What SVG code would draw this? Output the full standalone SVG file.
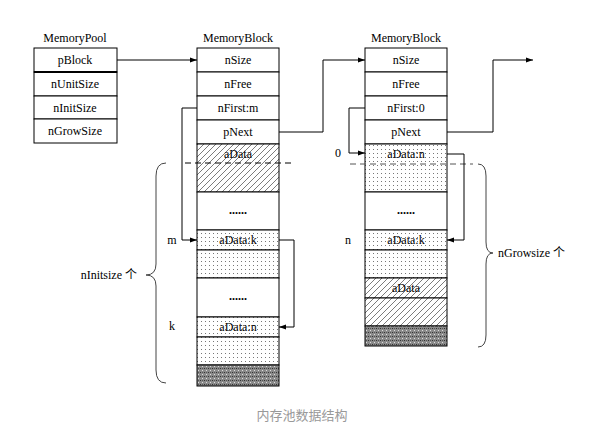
<svg xmlns="http://www.w3.org/2000/svg" width="610" height="436" viewBox="0 0 610 436">
<defs>
<style>
.t{font-family:"Liberation Serif","Times New Roman","Noto Sans CJK SC",serif;font-size:12px;fill:#000;text-anchor:middle}
.c{fill:#fff;stroke:#000;stroke-width:1}
.hat{fill:url(#hatch);stroke:#000;stroke-width:1}
.dot{fill:url(#dots);stroke:#000;stroke-width:1}
.dark{fill:url(#dark);stroke:#000;stroke-width:1}
.conn{fill:none;stroke:#000;stroke-width:1}
.brace{fill:none;stroke:#444;stroke-width:1}
</style>
<pattern id="hatch" width="6" height="6" patternUnits="userSpaceOnUse">
<rect width="6" height="6" fill="#fff"/>
<path d="M-1,7 L7,-1 M-1,1 L1,-1 M5,7 L7,5" stroke="#444" stroke-width="0.7"/>
</pattern>
<pattern id="dots" width="4" height="4" patternUnits="userSpaceOnUse">
<rect width="4" height="4" fill="#fff"/>
<rect x="1" y="1" width="1" height="1" fill="#777"/>
</pattern>
<pattern id="dark" width="4" height="4" patternUnits="userSpaceOnUse">
<rect width="4" height="4" fill="#8a8a8a"/>
<rect x="0" y="0" width="1" height="1" fill="#333"/>
<rect x="2" y="2" width="1" height="1" fill="#ddd"/>
<rect x="2" y="0" width="1" height="1" fill="#555"/>
</pattern>
<marker id="arr" markerWidth="8" markerHeight="6" refX="7" refY="3" orient="auto" markerUnits="userSpaceOnUse">
<path d="M0,0.5 L7,3 L0,5.5 Z" fill="#000"/>
</marker>
</defs>
<rect width="610" height="436" fill="#fff"/>

<g id="memorypool">
<text class="t" x="75" y="42">MemoryPool</text>
<rect class="c" x="34" y="48" width="83" height="24"/>
<text class="t" x="75" y="64">pBlock</text>
<rect class="c" x="34" y="72" width="83" height="24"/>
<text class="t" x="75" y="88">nUnitSize</text>
<rect class="c" x="34" y="96" width="83" height="23"/>
<text class="t" x="75" y="112">nInitSize</text>
<rect class="c" x="34" y="119" width="83" height="24"/>
<text class="t" x="75" y="135">nGrowSize</text>
<line x1="34" y1="72" x2="117" y2="72" stroke="#000" stroke-width="2"/>
</g>

<g id="memoryblock1">
<text class="t" x="238" y="42">MemoryBlock</text>
<rect class="c" x="197" y="48" width="82" height="24"/>
<text class="t" x="238" y="64">nSize</text>
<rect class="c" x="197" y="72" width="82" height="24"/>
<text class="t" x="238" y="88">nFree</text>
<rect class="c" x="197" y="96" width="82" height="24"/>
<text class="t" x="238" y="112">nFirst:m</text>
<rect class="c" x="197" y="120" width="82" height="24"/>
<text class="t" x="238" y="136">pNext</text>
<rect class="hat" x="197" y="144" width="82" height="48"/>
<text class="t" x="238" y="158">aData</text>
<rect class="c" x="197" y="192" width="82" height="38"/>
<text class="t" x="238" y="214" font-weight="bold">......</text>
<rect class="dot" x="197" y="230" width="82" height="20"/>
<text class="t" x="238" y="244">aData:k</text>
<rect class="dot" x="197" y="250" width="82" height="28"/>
<rect class="c" x="197" y="278" width="82" height="39"/>
<text class="t" x="238" y="300" font-weight="bold">......</text>
<rect class="dot" x="197" y="317" width="82" height="20"/>
<text class="t" x="238" y="331">aData:n</text>
<rect class="dot" x="197" y="337" width="82" height="28"/>
<rect class="dark" x="197" y="365" width="82" height="21"/>
<line x1="185" y1="163" x2="293" y2="163" stroke="#000" stroke-dasharray="6,4"/>
</g>

<g id="memoryblock2">
<text class="t" x="406" y="42">MemoryBlock</text>
<rect class="c" x="365" y="48" width="82" height="24"/>
<text class="t" x="406" y="64">nSize</text>
<rect class="c" x="365" y="72" width="82" height="24"/>
<text class="t" x="406" y="88">nFree</text>
<rect class="c" x="365" y="96" width="82" height="24"/>
<text class="t" x="406" y="112">nFirst:0</text>
<rect class="c" x="365" y="120" width="82" height="24"/>
<text class="t" x="406" y="136">pNext</text>
<rect class="dot" x="365" y="144" width="82" height="48"/>
<text class="t" x="406" y="158">aData:n</text>
<rect class="c" x="365" y="192" width="82" height="38"/>
<text class="t" x="406" y="214" font-weight="bold">......</text>
<rect class="dot" x="365" y="230" width="82" height="20"/>
<text class="t" x="406" y="244">aData:k</text>
<rect class="dot" x="365" y="250" width="82" height="28"/>
<rect class="hat" x="365" y="278" width="82" height="20"/>
<text class="t" x="406" y="292">aData</text>
<rect class="hat" x="365" y="298" width="82" height="28"/>
<rect class="dark" x="365" y="326" width="82" height="20"/>
<line x1="350" y1="164" x2="473" y2="164" stroke="#555" stroke-dasharray="6,4"/>
</g>

<g id="labels">
<text class="t" x="172" y="244">m</text>
<text class="t" x="172" y="330">k</text>
<text class="t" x="338" y="157">0</text>
<text class="t" x="348" y="244">n</text>
<text class="t" x="137" y="279" style="text-anchor:end">nInitsize 个</text>
<text class="t" x="498" y="257" style="text-anchor:start">nGrowsize 个</text>
</g>

<g id="braces">
<path class="brace" d="M166,163 Q156,163 156,176 L156,264 Q156,275 146,275 Q156,275 156,286 L156,370 Q156,383 166,383"/>
<path class="brace" d="M478,164 Q486,164 486,176 L486,242 Q486,253 493,253 Q486,253 486,264 L486,335 Q486,347 478,347"/>
</g>

<g id="connectors">
<path class="conn" d="M117,60 L197,60" marker-end="url(#arr)"/>
<path class="conn" d="M279,132 L323,132 L323,60 L365,60" marker-end="url(#arr)"/>
<path class="conn" d="M447,132 L493,132 L493,60 L533,60" marker-end="url(#arr)"/>
<path class="conn" d="M197,108 L182,108 L182,240 L197,240" marker-end="url(#arr)"/>
<path class="conn" d="M279,240 L294,240 L294,327 L279,327" marker-end="url(#arr)"/>
<path class="conn" d="M365,108 L349,108 L349,153 L365,153" marker-end="url(#arr)"/>
<path class="conn" d="M447,154 L464,154 L464,240 L447,240" marker-end="url(#arr)"/>
</g>

<text x="302" y="420" font-family="'Noto Sans CJK SC',sans-serif" font-size="13" fill="#999" text-anchor="middle">内存池数据结构</text>
</svg>
